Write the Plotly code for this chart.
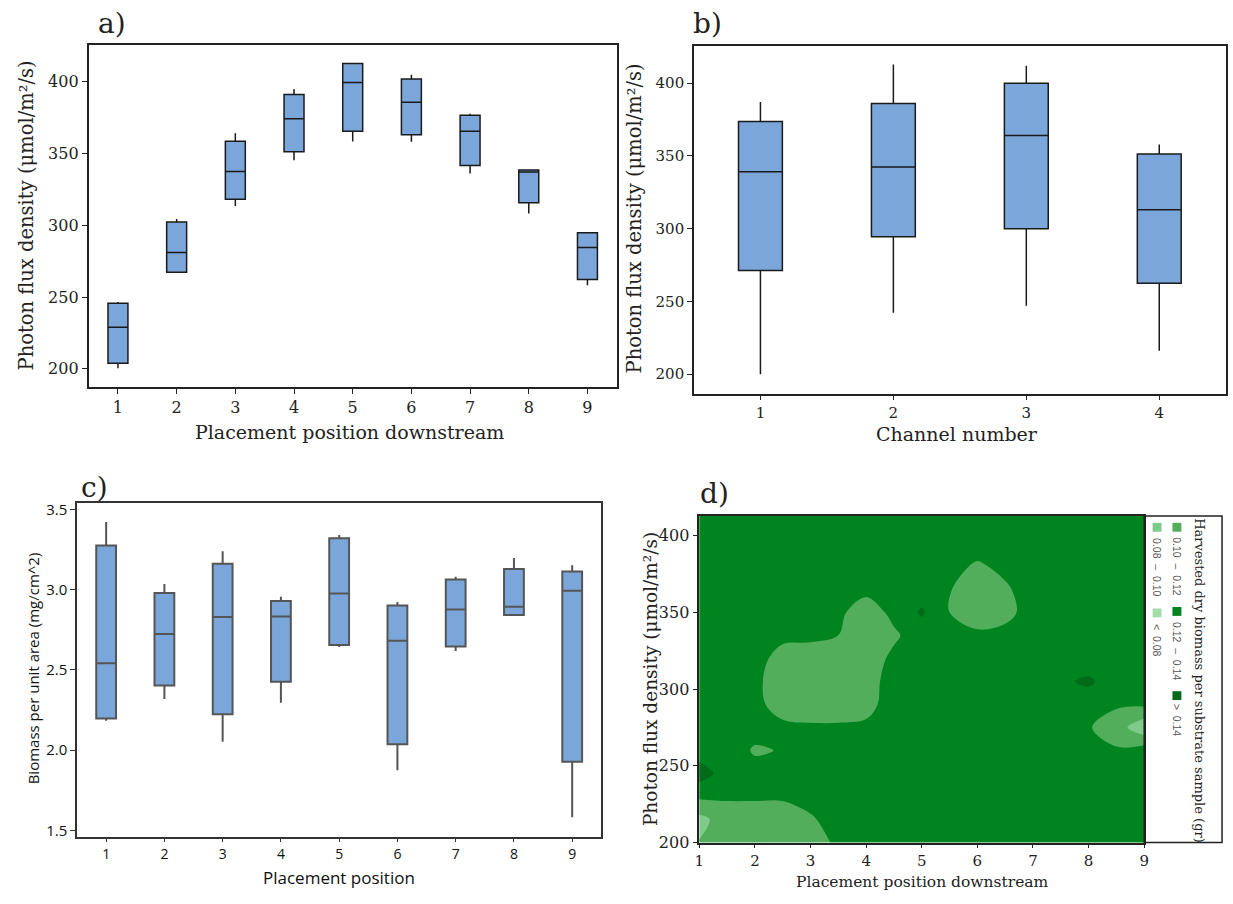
import plotly.graph_objects as go

W, H = 1233, 904

# ---- a) photon flux by placement position downstream ----
a_pos = [1, 2, 3, 4, 5, 6, 7, 8, 9]
a_low = [200.5, 267.4, 313.4, 345.4, 358.4, 358.2, 336.2, 308.3, 258.3]
a_q1 = [203.9, 267.4, 318.2, 351.3, 365.5, 363.2, 341.7, 315.7, 262.2]
a_med = [229.0, 281.1, 337.6, 374.2, 399.5, 385.8, 365.5, 337.1, 284.6]
a_q3 = [245.7, 302.4, 358.6, 391.1, 412.8, 402.0, 376.7, 338.5, 294.9]
a_up = [246.6, 304.5, 364.1, 395.0, 412.8, 405.0, 377.8, 338.7, 294.9]

# ---- b) photon flux by channel ----
b_pos = [1, 2, 3, 4]
b_low = [200.0, 242.2, 247.1, 216.2]
b_q1 = [271.3, 294.5, 299.9, 262.5]
b_med = [339.1, 342.3, 364.1, 313.0]
b_q3 = [373.6, 386.0, 400.0, 351.3]
b_up = [387.1, 412.9, 412.0, 357.8]

# ---- c) biomass per unit area by placement position ----
c_pos = [1, 2, 3, 4, 5, 6, 7, 8, 9]
c_low = [2.183, 2.318, 2.052, 2.295, 2.643, 1.874, 2.617, 2.842, 1.582]
c_q1 = [2.197, 2.402, 2.224, 2.426, 2.655, 2.036, 2.645, 2.842, 1.927]
c_med = [2.541, 2.723, 2.829, 2.833, 2.976, 2.682, 2.876, 2.893, 2.993]
c_q3 = [3.275, 2.979, 3.161, 2.929, 3.320, 2.901, 3.064, 3.128, 3.113]
c_up = [3.422, 3.036, 3.240, 2.956, 3.340, 2.923, 3.081, 3.197, 3.152]

# ---- d) harvested dry biomass over position x photon flux ----
d_x = [1.0, 1.5, 2.0, 2.5, 3.0, 3.5, 4.0, 4.5, 5.0, 5.5, 6.0, 6.5, 7.0, 7.5, 8.0, 8.5, 9.0]
d_y = [200, 215, 230, 245, 260, 275, 290, 305, 320, 335, 350, 365, 380, 395, 415]
d_z = [
    [0.101, 0.110, 0.110, 0.110, 0.110, 0.124, 0.13, 0.13, 0.13, 0.13, 0.13, 0.13, 0.13, 0.13, 0.13, 0.13, 0.13],
    [0.094, 0.110, 0.110, 0.110, 0.118, 0.127, 0.13, 0.13, 0.13, 0.13, 0.13, 0.13, 0.13, 0.13, 0.13, 0.13, 0.13],
    [0.1234, 0.1225, 0.1225, 0.1225, 0.126, 0.13, 0.13, 0.13, 0.13, 0.13, 0.13, 0.13, 0.13, 0.13, 0.13, 0.13, 0.13],
    [0.150, 0.13, 0.13, 0.13, 0.13, 0.13, 0.13, 0.13, 0.13, 0.13, 0.13, 0.13, 0.13, 0.13, 0.13, 0.13, 0.13],
    [0.13, 0.135, 0.117, 0.1215, 0.13, 0.13, 0.13, 0.13, 0.13, 0.13, 0.13, 0.13, 0.13, 0.13, 0.13, 0.122, 0.13],
    [0.13, 0.13, 0.13, 0.124, 0.1225, 0.1225, 0.124, 0.13, 0.13, 0.13, 0.13, 0.13, 0.13, 0.13, 0.1215, 0.110, 0.085],
    [0.13, 0.13, 0.125, 0.112, 0.110, 0.110, 0.113, 0.13, 0.13, 0.13, 0.13, 0.13, 0.13, 0.13, 0.13, 0.1225, 0.1235],
    [0.13, 0.13, 0.124, 0.110, 0.110, 0.110, 0.112, 0.128, 0.13, 0.13, 0.13, 0.13, 0.13, 0.137, 0.143, 0.13, 0.13],
    [0.13, 0.13, 0.128, 0.112, 0.112, 0.110, 0.110, 0.124, 0.13, 0.13, 0.13, 0.13, 0.13, 0.13, 0.13, 0.13, 0.13],
    [0.13, 0.13, 0.13, 0.125, 0.1235, 0.120, 0.110, 0.117, 0.13, 0.13, 0.1235, 0.127, 0.13, 0.13, 0.13, 0.13, 0.13],
    [0.13, 0.13, 0.13, 0.13, 0.13, 0.124, 0.110, 0.125, 0.1425, 0.120, 0.110, 0.113, 0.13, 0.13, 0.13, 0.13, 0.13],
    [0.13, 0.13, 0.13, 0.13, 0.13, 0.13, 0.125, 0.13, 0.13, 0.121, 0.110, 0.117, 0.13, 0.13, 0.13, 0.13, 0.13],
    [0.13, 0.13, 0.13, 0.13, 0.13, 0.13, 0.13, 0.13, 0.13, 0.127, 0.117, 0.125, 0.13, 0.13, 0.13, 0.13, 0.13],
    [0.13, 0.13, 0.13, 0.13, 0.13, 0.13, 0.13, 0.13, 0.13, 0.13, 0.13, 0.13, 0.13, 0.13, 0.13, 0.13, 0.13],
    [0.13, 0.13, 0.13, 0.13, 0.13, 0.13, 0.13, 0.13, 0.13, 0.13, 0.13, 0.13, 0.13, 0.13, 0.13, 0.13, 0.13],
]
band_labels = ["<  0.08", "0.08  \u2013  0.10", "0.10  \u2013  0.12", "0.12  \u2013  0.14", ">  0.14"]
band_colors = ["#a3dcab", "#7fcb8b", "#52ae5b", "#00841f", "#006b18"]

SERIF = "DejaVu Serif"
SANS = "Open Sans"
BOX_FILL = "#7ba6d9"
TXT = "#222222"


def px_x(p):
    return p / W


def px_y(p):
    return 1 - p / H


fig = go.Figure()

fig.add_trace(go.Box(
    x=a_pos, q1=a_q1, median=a_med, q3=a_q3, lowerfence=a_low, upperfence=a_up,
    width=0.34, whiskerwidth=0, fillcolor=BOX_FILL, line=dict(color="#1a1a1a", width=1.5),
    boxpoints=False, xaxis="x", yaxis="y", showlegend=False, hoverinfo="skip"))

fig.add_trace(go.Box(
    x=b_pos, q1=b_q1, median=b_med, q3=b_q3, lowerfence=b_low, upperfence=b_up,
    width=0.33, whiskerwidth=0, fillcolor=BOX_FILL, line=dict(color="#1a1a1a", width=1.5),
    boxpoints=False, xaxis="x2", yaxis="y2", showlegend=False, hoverinfo="skip"))

fig.add_trace(go.Box(
    x=c_pos, q1=c_q1, median=c_med, q3=c_q3, lowerfence=c_low, upperfence=c_up,
    width=0.34, whiskerwidth=0, fillcolor=BOX_FILL, line=dict(color="#555555", width=2),
    boxpoints=False, xaxis="x3", yaxis="y3", showlegend=False, hoverinfo="skip"))

fig.add_trace(go.Contour(
    x=d_x, y=d_y, z=d_z,
    contours=dict(start=0.08, end=0.14, size=0.02, coloring="fill", showlines=False),
    colorscale=[[i / 4, c] for i, c in enumerate(band_colors)],
    line=dict(width=0, smoothing=1),
    showscale=False, xaxis="x4", yaxis="y4", hoverinfo="skip"))


def frame_axis(domain, rng, tickvals, font, anchor, ticklen=5, linecolor="#222222", standoff=None):
    ax = dict(domain=domain, range=rng, tickvals=tickvals, anchor=anchor,
              showgrid=False, zeroline=False, showline=True, mirror=True,
              linecolor=linecolor, linewidth=1.5, ticks="outside", ticklen=ticklen,
              tickcolor=linecolor, tickwidth=1, tickfont=font)
    if standoff is not None:
        ax["ticklabelstandoff"] = standoff
    return ax


serif_ticks = dict(family=SERIF, size=16, color=TXT)
serif_ticks_b = dict(family=SERIF, size=15, color=TXT)
serif_ticks_d = dict(family=SERIF, size=15, color=TXT)
sans_ticks = dict(family=SANS, size=15, color="#111111")
sans_ticks_x = dict(family=SANS, size=14, color="#111111")
flux_ticks = [200, 250, 300, 350, 400]

fig.update_layout(
    width=W, height=H, margin=dict(l=0, r=0, t=0, b=0),
    paper_bgcolor="white", plot_bgcolor="white",
    xaxis=frame_axis([px_x(84.3), px_x(616.8)], [0.5, 9.5], a_pos, serif_ticks, "y"),
    yaxis=frame_axis([px_y(389), px_y(42)], [187.4, 425.4], flux_ticks, serif_ticks, "x"),
    xaxis2=frame_axis([px_x(694.6), px_x(1230.7)], [0.5, 4.5], b_pos, serif_ticks_b, "y2"),
    yaxis2=frame_axis([px_y(395.7), px_y(42.7)], [186.7, 425.5], flux_ticks, serif_ticks_b, "x2"),
    xaxis3=frame_axis([px_x(72.6), px_x(601.2)], [0.5, 9.5], c_pos, sans_ticks_x, "y3", ticklen=4,
                      linecolor="#333333"),
    yaxis3=frame_axis([px_y(845.7), px_y(506.7)], [1.461, 3.541], [1.5, 2.0, 2.5, 3.0, 3.5], sans_ticks, "x3",
                      linecolor="#333333"),
    xaxis4=frame_axis([px_x(700), px_x(1148.5)], [1, 9], list(range(1, 10)), serif_ticks_d, "y4", ticklen=4),
    yaxis4=frame_axis([px_y(851.7), px_y(520)], [200, 412.8], flux_ticks, serif_ticks, "x4"),
)
fig.update_layout(yaxis3=dict(tickformat=".1f"))

ann = []


def text(x, y, s, size, family=SERIF, angle=0, color=TXT, xanchor="center", yanchor="middle"):
    ann.append(dict(x=px_x(x), y=px_y(y), xref="paper", yref="paper", text=s, showarrow=False,
                    textangle=angle, xanchor=xanchor, yanchor=yanchor,
                    font=dict(family=family, size=size, color=color)))


# panel letters
text(108, 20, "a)", 28)
text(708, 20, "b)", 28)
text(90, 491, "c)", 28)
text(715, 497, "d)", 28)

ytitle_flux = "Photon flux density (\u03bcmol/m\u00b2/s)"

# axis titles
text(347, 435, "Placement position downstream", 19)
text(22, 215, ytitle_flux, 19.5, angle=-90)
text(960, 437, "Channel number", 19)
text(635, 218, ytitle_flux, 19.5, angle=-90)
text(337, 887, "Placement position", 17, family=SANS, color="#111111")
text(28, 675, "Biomass per unit area (mg/cm^2)", 15, family=SANS, color="#111111", angle=-90)
text(925, 892, "Placement position downstream", 15.5)
text(651, 686, ytitle_flux, 18.5, angle=-90)

# rotated legend for the contour bands
text(1204, 687, "Harvested dry biomass per substrate sample (gr)", 13, angle=90)
legend_items = [
    # (band index, column x centre, swatch y centre, label centre y)
    (2, 1181.5, 531.5, 572),
    (3, 1181.5, 617, 658),
    (4, 1181.5, 702.5, 728),
    (1, 1161.5, 531.5, 572),
    (0, 1161.5, 618.5, 646),
]
shapes = [dict(type="rect", xref="paper", yref="paper",
               x0=px_x(1148.5), x1=px_x(1227), y0=px_y(851.7), y1=px_y(520),
               line=dict(color="#222222", width=1.5), fillcolor="rgba(0,0,0,0)")]
for bi, cx, sy, ly in legend_items:
    shapes.append(dict(type="rect", xref="paper", yref="paper",
                       x0=px_x(cx - 4.5), x1=px_x(cx + 4.5), y0=px_y(sy + 4.5), y1=px_y(sy - 4.5),
                       line=dict(width=0), fillcolor=band_colors[bi]))
    text(cx, ly, band_labels[bi], 10.5, family="Liberation Sans", angle=90, color="#555555")

fig.update_layout(annotations=ann, shapes=shapes)

fig.write_html("out.html")
